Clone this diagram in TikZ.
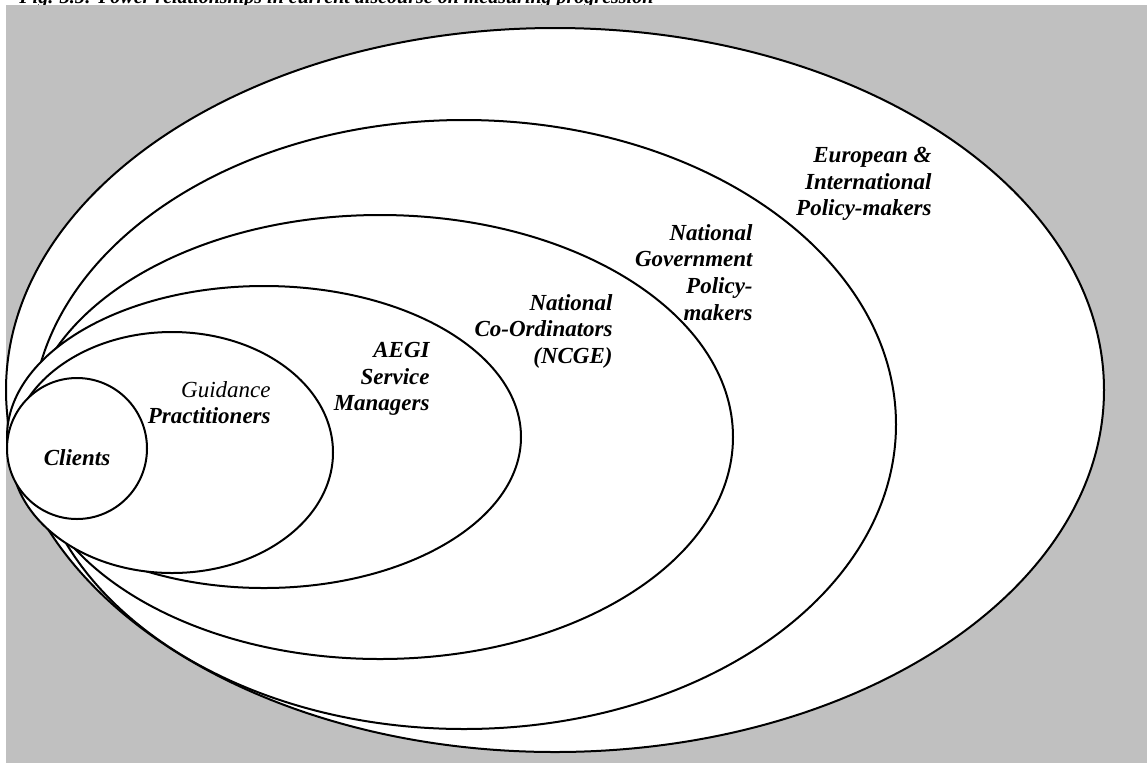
\documentclass[tikz,border=0pt]{standalone}
\usepackage{fontspec}
\setmainfont{Liberation Serif}
\usetikzlibrary{shapes.geometric}
\definecolor{backgray}{HTML}{C0C0C0}

\begin{document}
\begin{tikzpicture}[x=0.5pt, y=-0.5pt]
    \tikzstyle{ring} = [draw, ellipse, fill=white, line width=1pt,
    inner sep=0pt, outer sep=0pt]
    \tikzstyle{lbl} = [inner sep=0pt, align=right, anchor=north east,
    font=\fontsize{11.5}{13.3}\selectfont\bfseries\itshape]

    \useasboundingbox (0,0) rectangle (1147,773);
    \node [anchor=base west, inner sep=0pt,
    font=\fontsize{10}{12}\selectfont\bfseries\itshape] (caption) at (19,3)
    {Fig. 3.5: Power relationships in current discourse on measuring progression};
    \fill [backgray] (6,5) rectangle (1147,763);

    % nested circles, outermost first
    \node [ring, minimum width=549pt, minimum height=362pt] (euro) at (555,390) {};
    \node [ring, minimum width=432pt, minimum height=304.5pt] (gov) at (464,424.5) {};
    \node [ring, minimum width=353pt, minimum height=222pt] (ncge) at (380,437) {};
    \node [ring, minimum width=257pt, minimum height=151pt] (aegi) at (264,437) {};
    \node [ring, minimum width=161pt, minimum height=120.5pt] (prac) at (172,452.5) {};
    \node [ring, minimum width=70pt, minimum height=70.5pt] (clients) at (77,448.5) {};

    \node [lbl] (eurotxt) at (932,147) {European \&\\International\\Policy-makers};
    \node [lbl] (govtxt) at (753,224) {National\\Government\\Policy-\\makers};
    \node [lbl] (ncgetxt) at (613,294) {National\\Co-Ordinators\\(NCGE)};
    \node [lbl] (aegitxt) at (430,342) {AEGI\\Service\\Managers};
    \node [lbl] (practxt) at (271,381) {{\mdseries Guidance}\\Practitioners};
    \node [lbl, anchor=base] (clitxt) at (77,465) {Clients};
\end{tikzpicture}
\end{document}
